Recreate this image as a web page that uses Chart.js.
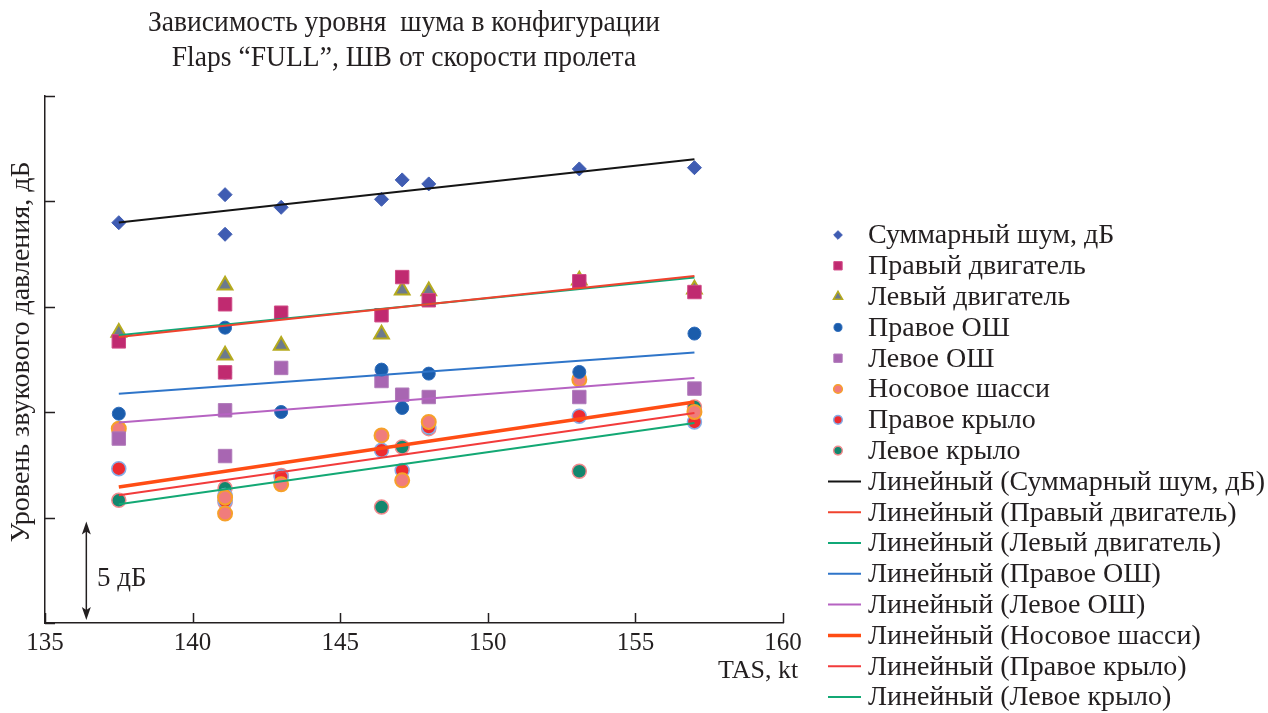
<!DOCTYPE html>
<html lang="ru">
<head>
<meta charset="utf-8">
<title>Зависимость уровня шума от скорости пролета</title>
<script src="https://cdn.jsdelivr.net/npm/chart.js@4.4.1/dist/chart.umd.min.js"></script>
<style>
  html, body { margin: 0; padding: 0; background: #ffffff; }
  #wrap { width: 1268px; height: 713px; position: relative; }
</style>
</head>
<body>
<div id="wrap"><canvas id="chart" width="1268" height="713"></canvas></div>
<script>
// Flight speed, kt (two runs at 141.1 kt)
const speeds = [137.5, 141.1, 141.1, 143.0, 146.4, 147.1, 148.0, 153.1, 157.0];

// Noise level per source, dB relative to the lower axis edge
const totalNoise    = [18.99, 20.32, 18.44, 19.72, 20.10, 21.02, 20.83, 21.54, 21.60];
const rightEngine   = [13.36, 15.12, 11.89, 14.72, 14.60, 16.41, 15.31, 16.21, 15.70];
const leftEngine    = [13.78, 16.02, 12.70, 13.17, 13.70, 15.78, 15.75, 16.26, 15.83];
const rightMainGear = [9.93, 14.01, 11.88, 10.01, 12.02, 10.20, 11.83, 11.91, 13.73];
const leftMainGear  = [8.75, 10.09, 7.92, 12.10, 11.48, 10.83, 10.72, 10.72, 11.12];
const noseGear      = [9.22, 5.19, 5.95, 6.58, 8.90, 6.77, 9.54, 11.55, 10.01];
const rightWing     = [7.32, 6.05, 5.80, 6.93, 8.19, 7.24, 9.30, 9.81, 9.54];
const leftWing      = [5.82, 6.39, 5.72, 7.00, 5.50, 8.35, 9.22, 7.20, 10.25];

const seriesNames = ['Суммарный шум, дБ', 'Правый двигатель', 'Левый двигатель', 'Правое ОШ',
                     'Левое ОШ', 'Носовое шасси', 'Правое крыло', 'Левое крыло'];
const seriesValues = [totalNoise, rightEngine, leftEngine, rightMainGear,
                      leftMainGear, noseGear, rightWing, leftWing];

// Linear trend values at the first and last speed
const trendFrom = [19.00, 13.57, 13.65, 10.88, 9.51, 6.45, 6.06, 5.63];
const trendTo   = [22.00, 16.46, 16.39, 12.83, 11.62, 10.48, 9.96, 9.49];

const xTicks = [135, 140, 145, 150, 155, 160];
const yTicks = [0, 5, 10, 15, 20, 25];
const scaleBarDb = 5;
const scaleBarSpeed = 136.4;

// Marker and trend-line appearance
const markerStyles = [
  { style: 'rectRot',  r: 7,   fill: '#3F5CB2', stroke: '#3F5CB2', bw: 1 },
  { style: 'rect',     r: 9.5, fill: '#C02A70', stroke: '#D04A86', bw: 1 },
  { style: 'triangle', r: 8.5, fill: '#6C7A8E', stroke: '#B5AA1E', bw: 2 },
  { style: 'circle',   r: 6.5, fill: '#1A5CAB', stroke: '#2E6CBC', bw: 1 },
  { style: 'rect',     r: 9.5, fill: '#A866B2', stroke: '#B07ABA', bw: 1 },
  { style: 'circle',   r: 7,   fill: '#F07C7C', stroke: '#F6A02A', bw: 2 },
  { style: 'circle',   r: 7,   fill: '#EE2B30', stroke: '#86AEE8', bw: 1.5 },
  { style: 'circle',   r: 7,   fill: '#12876E', stroke: '#F28A8E', bw: 1.5 }
];
const trendStyles = [
  { color: '#141414', w: 2 },
  { color: '#F0432E', w: 2 },
  { color: '#10A877', w: 2 },
  { color: '#2F75C9', w: 2 },
  { color: '#B663C2', w: 2 },
  { color: '#FF4D14', w: 3.5 },
  { color: '#F23B3B', w: 2 },
  { color: '#13A874', w: 2 }
];

const TEXT = '#231F20';
const SERIF = '"Liberation Serif", "Times New Roman", serif';

const datasets = [];
seriesNames.forEach((name, i) => {
  const m = markerStyles[i];
  datasets.push({
    label: name,
    data: speeds.map((x, k) => ({ x, y: seriesValues[i][k] })),
    showLine: false,
    pointStyle: m.style,
    pointRadius: m.r,
    pointHoverRadius: m.r,
    backgroundColor: m.fill,
    borderColor: m.stroke,
    pointBorderWidth: m.bw,
    order: 1
  });
});
seriesNames.forEach((name, i) => {
  const t = trendStyles[i];
  datasets.push({
    label: 'Линейный (' + name + ')',
    data: [{ x: speeds[0], y: trendFrom[i] }, { x: speeds[speeds.length - 1], y: trendTo[i] }],
    showLine: true,
    borderColor: t.color,
    borderWidth: t.w,
    pointRadius: 0,
    pointHoverRadius: 0,
    fill: false,
    order: 0
  });
});

function markerPath(ctx, style, x, y, r) {
  ctx.beginPath();
  if (style === 'rectRot') {
    ctx.moveTo(x, y - r); ctx.lineTo(x + r, y); ctx.lineTo(x, y + r); ctx.lineTo(x - r, y);
  } else if (style === 'rect') {
    const s = r * Math.SQRT1_2;
    ctx.rect(x - s, y - s, 2 * s, 2 * s);
  } else if (style === 'triangle') {
    ctx.moveTo(x, y - r);
    ctx.lineTo(x + r * Math.sin(Math.PI / 3), y + r / 2);
    ctx.lineTo(x - r * Math.sin(Math.PI / 3), y + r / 2);
  } else {
    ctx.arc(x, y, r, 0, Math.PI * 2);
  }
  ctx.closePath();
}

// Inward tick marks, captions, scale bar and legend
const decorations = {
  id: 'decorations',
  afterDraw(chart) {
    const { ctx, scales } = chart;
    const xs = scales.x, ys = scales.y;
    const left = chart.chartArea.left, bottom = chart.chartArea.bottom;
    ctx.save();

    // tick marks pointing into the plot
    ctx.strokeStyle = '#231F20';
    ctx.lineWidth = 1.5;
    ctx.beginPath();
    yTicks.forEach(v => {
      const py = Math.round(ys.getPixelForValue(v)) + 0.5;
      ctx.moveTo(left, py); ctx.lineTo(left + 10, py);
    });
    xTicks.forEach(v => {
      const px = Math.round(xs.getPixelForValue(v)) + 0.5;
      ctx.moveTo(px, bottom); ctx.lineTo(px, bottom - 10);
    });
    ctx.stroke();

    ctx.fillStyle = TEXT;

    // two-line title in a narrow face
    ctx.font = '29px ' + SERIF;
    ctx.textAlign = 'center';
    ctx.textBaseline = 'middle';
    const t1 = 'Зависимость уровня  шума в конфигурации';
    const t2 = 'Flaps “FULL”, ШВ от скорости пролета';
    const squeeze = 512 / ctx.measureText(t1).width;
    [[t1, 23], [t2, 58]].forEach(([s, y]) => {
      ctx.save();
      ctx.translate(404, y);
      ctx.scale(squeeze, 1);
      ctx.fillText(s, 0, 0);
      ctx.restore();
    });

    // axis captions
    ctx.font = '28px ' + SERIF;
    ctx.save();
    ctx.translate(22, 352);
    ctx.rotate(-Math.PI / 2);
    ctx.fillText('Уровень звукового давления, дБ', 0, 0);
    ctx.restore();
    ctx.font = '26px ' + SERIF;
    ctx.textAlign = 'left';
    ctx.fillText('TAS, kt', 718, 671);

    // 5 dB scale bar
    const bx = xs.getPixelForValue(scaleBarSpeed);
    const yTop = ys.getPixelForValue(scaleBarDb) + 4;
    const yBot = ys.getPixelForValue(0) - 3;
    ctx.strokeStyle = '#231F20';
    ctx.lineWidth = 1.5;
    ctx.beginPath();
    ctx.moveTo(bx, yTop + 8); ctx.lineTo(bx, yBot - 8);
    ctx.stroke();
    ctx.beginPath();
    ctx.moveTo(bx, yTop); ctx.lineTo(bx + 4.5, yTop + 13); ctx.lineTo(bx, yTop + 10); ctx.lineTo(bx - 4.5, yTop + 13);
    ctx.closePath(); ctx.fill();
    ctx.beginPath();
    ctx.moveTo(bx, yBot); ctx.lineTo(bx + 4.5, yBot - 13); ctx.lineTo(bx, yBot - 10); ctx.lineTo(bx - 4.5, yBot - 13);
    ctx.closePath(); ctx.fill();
    ctx.font = '27px ' + SERIF;
    ctx.fillText('5 дБ', 97, 579);

    // legend
    ctx.font = '28px ' + SERIF;
    ctx.textBaseline = 'middle';
    const rowH = 30.8;
    seriesNames.forEach((name, i) => {
      const y = 235 + i * rowH;
      const m = markerStyles[i];
      markerPath(ctx, m.style, 838, y, m.r * 0.62);
      ctx.fillStyle = m.fill; ctx.fill();
      ctx.strokeStyle = m.stroke; ctx.lineWidth = Math.min(m.bw, 1.5); ctx.stroke();
      ctx.fillStyle = TEXT;
      ctx.fillText(name, 868, y + 1);
    });
    seriesNames.forEach((name, i) => {
      const y = 235 + (i + 8) * rowH;
      const t = trendStyles[i];
      ctx.strokeStyle = t.color; ctx.lineWidth = t.w;
      ctx.beginPath(); ctx.moveTo(828, y); ctx.lineTo(861, y); ctx.stroke();
      ctx.fillStyle = TEXT;
      ctx.fillText('Линейный (' + name + ')', 868, y + 1);
    });

    ctx.restore();
  }
};

new Chart(document.getElementById('chart'), {
  type: 'scatter',
  data: { datasets },
  options: {
    responsive: false,
    animation: false,
    devicePixelRatio: 1,
    layout: { padding: { left: 45, top: 96, right: 485, bottom: 50 } },
    plugins: {
      legend: { display: false },
      title: { display: false },
      tooltip: { enabled: false }
    },
    scales: {
      x: {
        type: 'linear',
        min: xTicks[0],
        max: xTicks[xTicks.length - 1],
        afterBuildTicks: s => { s.ticks = xTicks.map(v => ({ value: v })); },
        afterFit: s => { s.height = 40; },
        grid: { display: false, drawTicks: false, tickLength: 0 },
        border: { display: true, color: '#231F20', width: 1.5 },
        ticks: { color: TEXT, padding: 5, font: { family: SERIF, size: 25 }, maxRotation: 0 }
      },
      y: {
        type: 'linear',
        min: yTicks[0],
        max: yTicks[yTicks.length - 1],
        afterBuildTicks: s => { s.ticks = yTicks.map(v => ({ value: v })); },
        afterFit: s => { s.width = 0; },
        grid: { display: false, drawTicks: false, tickLength: 0 },
        border: { display: true, color: '#231F20', width: 1.5 },
        ticks: { display: false }
      }
    }
  },
  plugins: [decorations]
});
</script>
</body>
</html>
